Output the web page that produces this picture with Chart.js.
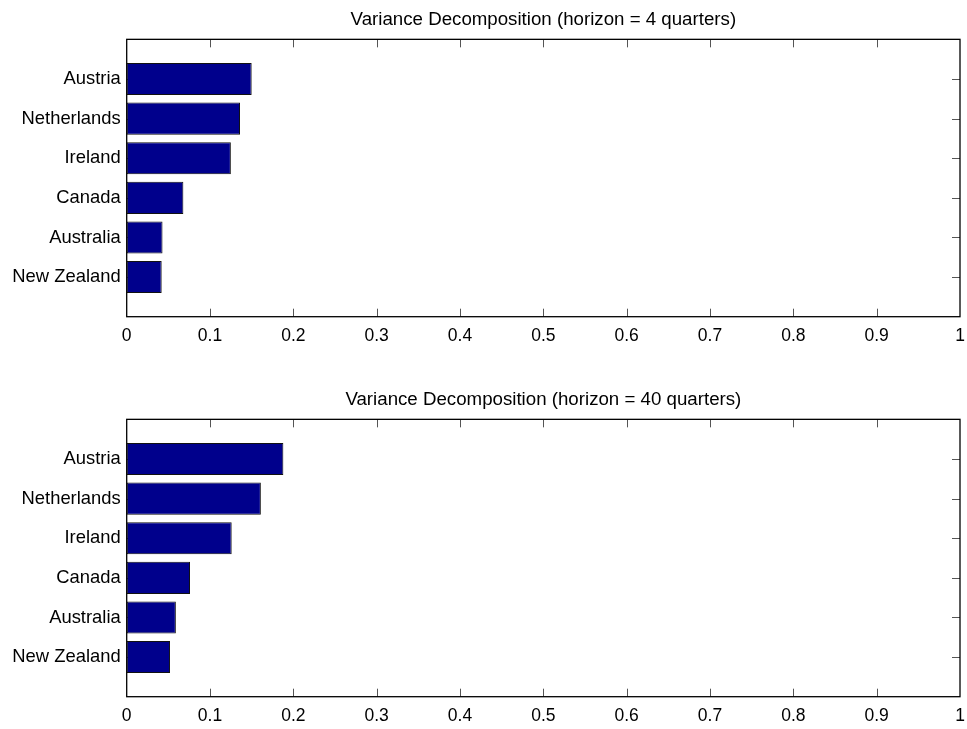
<!DOCTYPE html>
<html>
<head>
<meta charset="utf-8">
<script src="https://cdn.jsdelivr.net/npm/chart.js@4/dist/chart.umd.min.js"></script>
<style>
  html, body { margin: 0; padding: 0; background: #fff; }
  .box { position: absolute; left: 0; width: 967px; }
</style>
</head>
<body>
<div class="box" style="top:0;height:380px"><canvas id="top"></canvas></div>
<div class="box" style="top:380px;height:349px"><canvas id="bottom"></canvas></div>
<script>
// countries, top to bottom
var countries = ['Austria', 'Netherlands', 'Ireland', 'Canada', 'Australia', 'New Zealand'];

// share of variance
var horizon4 = [0.150, 0.136, 0.125, 0.068, 0.043, 0.042];
var horizon40 = [0.188, 0.161, 0.126, 0.076, 0.059, 0.052];

var xTicks = [0, 0.1, 0.2, 0.3, 0.4, 0.5, 0.6, 0.7, 0.8, 0.9, 1];

var FONT = "'Liberation Sans', Arial, Helvetica, sans-serif";

// MATLAB style frame: box round the axes and inward tick marks on all four sides
var matlabAxes = {
  id: 'matlabAxes',
  beforeDatasetsDraw: function (chart) {
    var a = chart.chartArea, ctx = chart.ctx;
    var xs = chart.scales.x, ys = chart.scales.y;
    var len = 8;
    ctx.save();
    ctx.strokeStyle = '#555';
    ctx.lineWidth = 1;
    ctx.beginPath();
    xs.ticks.forEach(function (t) {
      if (t.value <= xs.min || t.value >= xs.max) return;
      var px = Math.round(xs.getPixelForValue(t.value)) + 0.5;
      ctx.moveTo(px, a.bottom); ctx.lineTo(px, a.bottom - len);
      ctx.moveTo(px, a.top); ctx.lineTo(px, a.top + len);
    });
    for (var i = 1; i <= countries.length; i++) {
      var py = Math.round(ys.getPixelForValue(i)) + 0.5;
      ctx.moveTo(a.left, py); ctx.lineTo(a.left + len, py);
      ctx.moveTo(a.right, py); ctx.lineTo(a.right - len, py);
    }
    ctx.stroke();
    ctx.restore();
  },
  afterDatasetsDraw: function (chart) {
    var a = chart.chartArea, ctx = chart.ctx;
    ctx.save();
    ctx.strokeStyle = '#000';
    ctx.lineWidth = 1.3;
    ctx.strokeRect(a.left, a.top, a.right - a.left, a.bottom - a.top);
    ctx.restore();
  }
};

function makeChart(id, title, values, xAxisHeight) {
  // blank slots above and below the bars, as in the original axes
  var labels = [''].concat(countries, ['']);
  var data = [null].concat(values, [null]);

  return new Chart(document.getElementById(id), {
    type: 'bar',
    data: {
      labels: labels,
      datasets: [{
        data: data,
        backgroundColor: '#00008C',
        borderColor: '#111',
        borderWidth: 1,
        borderSkipped: false,
        categoryPercentage: 1,
        barPercentage: 0.81
      }]
    },
    options: {
      indexAxis: 'y',
      responsive: true,
      maintainAspectRatio: false,
      animation: false,
      layout: { padding: 0 },
      plugins: {
        legend: { display: false },
        tooltip: { enabled: false },
        title: {
          display: true,
          text: title,
          fullSize: false,
          color: '#000',
          font: { family: FONT, size: 18.7, weight: 'normal', lineHeight: 1.2 },
          padding: { top: 8.6, bottom: 8.3 }
        }
      },
      scales: {
        x: {
          type: 'linear',
          min: 0,
          max: 1,
          afterBuildTicks: function (scale) {
            scale.ticks = xTicks.map(function (v) { return { value: v }; });
          },
          afterFit: function (scale) {
            scale.height = xAxisHeight;
            scale.paddingRight = 7;
          },
          grid: { display: false, drawTicks: false },
          border: { display: false },
          ticks: {
            color: '#000',
            padding: 9,
            maxRotation: 0,
            font: { family: FONT, size: 17.5 },
            callback: function (v) { return String(v); }
          }
        },
        y: {
          type: 'category',
          offset: false,
          afterFit: function (scale) { scale.width = 126.7; },
          grid: { display: false, drawTicks: false },
          border: { display: false },
          ticks: {
            color: '#000',
            padding: 6,
            autoSkip: false,
            font: { family: FONT, size: 18.4 }
          }
        }
      }
    },
    plugins: [matlabAxes]
  });
}

makeChart('top', 'Variance Decomposition (horizon = 4 quarters)', horizon4, 63.3);
makeChart('bottom', 'Variance Decomposition (horizon = 40 quarters)', horizon40, 32.3);
</script>
</body>
</html>
